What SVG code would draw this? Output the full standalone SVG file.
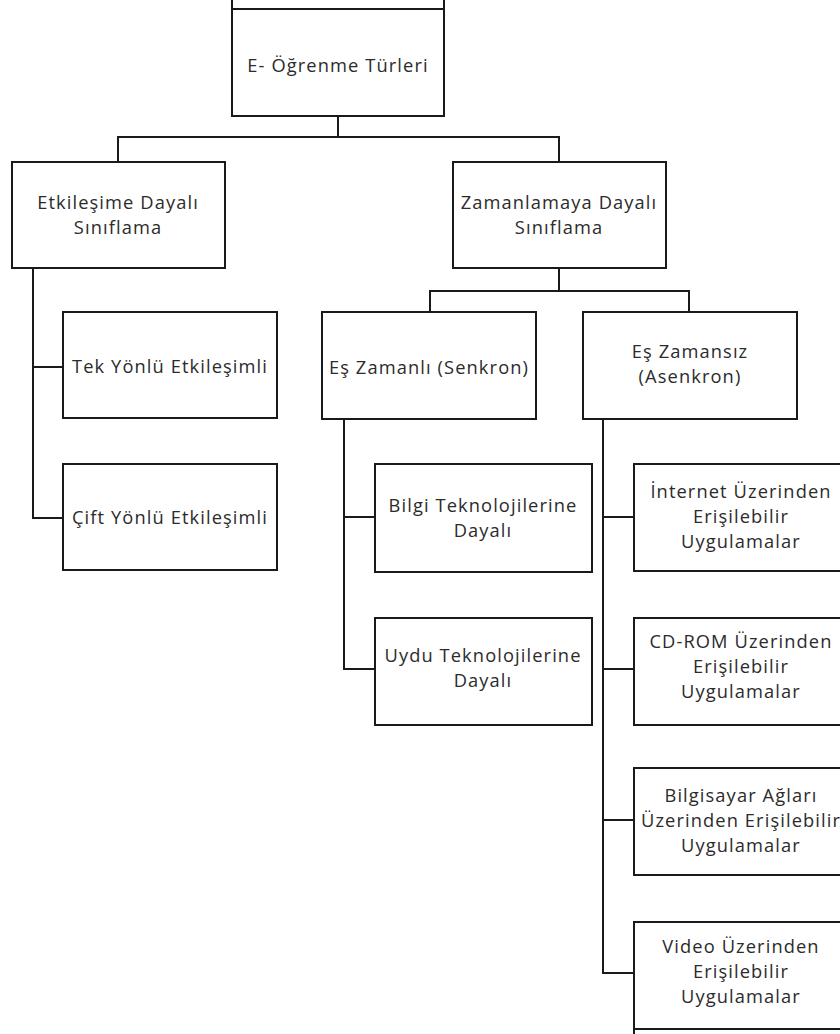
<svg xmlns="http://www.w3.org/2000/svg" width="840" height="1034" viewBox="0 0 840 1034">
  <style>
    .box { fill: #ffffff; stroke: #1a1a1a; stroke-width: 2; }
    .link { fill: none; stroke: #1a1a1a; stroke-width: 2; }
    .label { font-family: "Open Sans", "Liberation Sans", sans-serif; font-size: 18.3px; letter-spacing: 1.1px; fill: #2b2b2b; text-anchor: middle; }
  </style>
  <rect width="840" height="1034" fill="#ffffff"/>

  <!-- connectors -->
  <g id="connectors">
    <path class="link" d="M232 0 V9 M444 0 V9"/>
    <path class="link" d="M338 116 V137 M118 162 V137 H559 V162"/>
    <path class="link" d="M33 268 V518 H63 M33 367 H63"/>
    <path class="link" d="M559 268 V291 M430 312 V291 H689 V312"/>
    <path class="link" d="M344 419 V669 H375 M344 517 H375"/>
    <path class="link" d="M603 419 V973 H634 M603 517 H634 M603 669 H634 M603 820 H634"/>
    <path class="link" d="M634 1029 V1034"/>
  </g>

  <g id="root">
    <rect class="box" x="232" y="9" width="212" height="107"/>
    <text class="label" x="338" y="72">E- Öğrenme Türleri</text>
  </g>

  <g id="etkilesim">
    <rect class="box" x="12" y="162" width="213" height="106"/>
    <text class="label" x="118" y="209">Etkileşime Dayalı</text>
    <text class="label" x="118" y="234">Sınıflama</text>
  </g>

  <g id="zamanlama">
    <rect class="box" x="453" y="162" width="213" height="106"/>
    <text class="label" x="559" y="209">Zamanlamaya Dayalı</text>
    <text class="label" x="559" y="234">Sınıflama</text>
  </g>

  <g id="tek-yonlu">
    <rect class="box" x="63" y="312" width="214" height="106"/>
    <text class="label" x="170" y="373">Tek Yönlü Etkileşimli</text>
  </g>

  <g id="cift-yonlu">
    <rect class="box" x="63" y="464" width="214" height="106"/>
    <text class="label" x="170" y="524">Çift Yönlü Etkileşimli</text>
  </g>

  <g id="es-zamanli">
    <rect class="box" x="322" y="312" width="214" height="107"/>
    <text class="label" x="429" y="374">Eş Zamanlı (Senkron)</text>
  </g>

  <g id="es-zamansiz">
    <rect class="box" x="583" y="312" width="214" height="107"/>
    <text class="label" x="690" y="358">Eş Zamansız</text>
    <text class="label" x="690" y="383">(Asenkron)</text>
  </g>

  <g id="bilgi-tek">
    <rect class="box" x="375" y="464" width="217" height="108"/>
    <text class="label" x="483" y="512">Bilgi Teknolojilerine</text>
    <text class="label" x="483" y="537">Dayalı</text>
  </g>

  <g id="uydu-tek">
    <rect class="box" x="375" y="618" width="217" height="107"/>
    <text class="label" x="483" y="662">Uydu Teknolojilerine</text>
    <text class="label" x="483" y="687">Dayalı</text>
  </g>

  <g id="internet">
    <rect class="box" x="634" y="464" width="214" height="107"/>
    <text class="label" x="741" y="498">İnternet Üzerinden</text>
    <text class="label" x="741" y="523">Erişilebilir</text>
    <text class="label" x="741" y="548">Uygulamalar</text>
  </g>

  <g id="cd-rom">
    <rect class="box" x="634" y="618" width="214" height="107"/>
    <text class="label" x="741" y="648">CD-ROM Üzerinden</text>
    <text class="label" x="741" y="673">Erişilebilir</text>
    <text class="label" x="741" y="698">Uygulamalar</text>
  </g>

  <g id="bilgisayar">
    <rect class="box" x="634" y="768" width="214" height="107"/>
    <text class="label" x="741" y="802">Bilgisayar Ağları</text>
    <text class="label" x="741" y="827">Üzerinden Erişilebilir</text>
    <text class="label" x="741" y="852">Uygulamalar</text>
  </g>

  <g id="video">
    <rect class="box" x="634" y="922" width="214" height="107"/>
    <text class="label" x="741" y="953">Video Üzerinden</text>
    <text class="label" x="741" y="978">Erişilebilir</text>
    <text class="label" x="741" y="1003">Uygulamalar</text>
  </g>
</svg>
